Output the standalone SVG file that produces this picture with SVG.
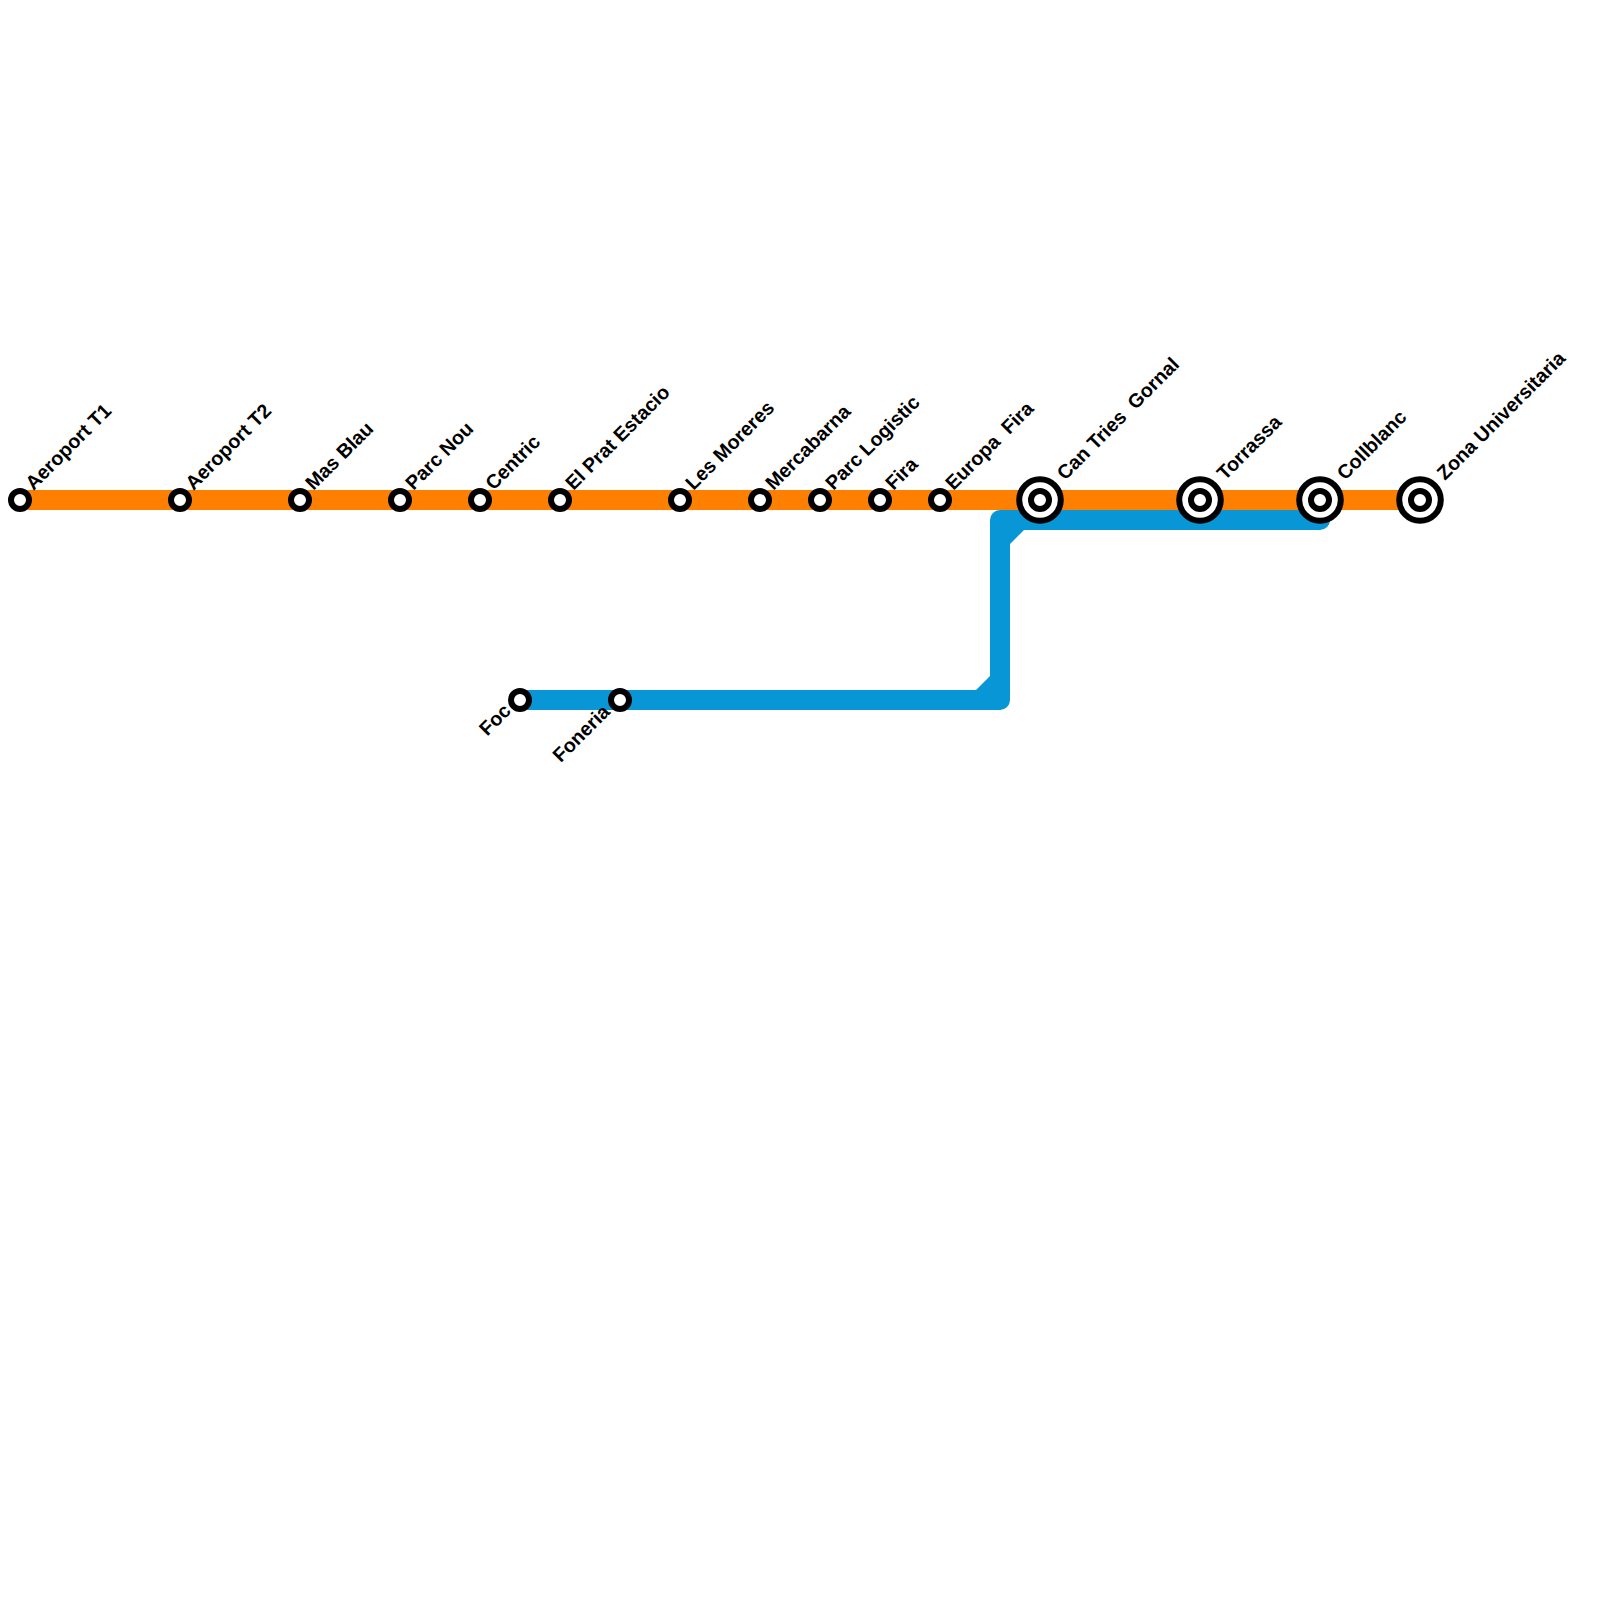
<svg xmlns="http://www.w3.org/2000/svg" width="1600" height="1600" viewBox="0 0 1600 1600">
<style>
text{font-family:"Liberation Sans",Arial,sans-serif;font-size:19.7px;font-weight:bold;fill:#000;white-space:pre}
.ln{fill:none;stroke-width:20;stroke-linejoin:round;stroke-linecap:round}
.s{fill:#fff;stroke:#000;stroke-width:6}
.i{fill:#fff;stroke:#000;stroke-width:6}
.e{text-anchor:end}
</style>
<defs>
<g id="st"><circle class="s" r="9"/></g>
<g id="ic"><circle class="i" r="20.8"/><circle class="s" r="9"/></g>
</defs>
<rect width="1600" height="1600" fill="#fff"/>
<g id="connectors">
<path class="ln" stroke="#ff8000" d="M20 500H1420"/>
<path class="ln" stroke="#0896d7" d="M520 700H1000V520H1320"/>
<path fill="#0896d7" d="M1005 530H1024L1005 549ZM990 676L976 690H995V676Z"/>
</g>
<g id="n1"><use href="#st" x="20" y="500"/><text transform="translate(33.5 491) rotate(-45)">Aeroport T1</text></g>
<g id="n2"><use href="#st" x="180" y="500"/><text transform="translate(193.5 491) rotate(-45)">Aeroport T2</text></g>
<g id="n3"><use href="#st" x="300" y="500"/><text transform="translate(313.5 491) rotate(-45)">Mas Blau</text></g>
<g id="n4"><use href="#st" x="400" y="500"/><text transform="translate(413.5 491) rotate(-45)">Parc Nou</text></g>
<g id="n5"><use href="#st" x="480" y="500"/><text transform="translate(493.5 491) rotate(-45)">Centric</text></g>
<g id="n6"><use href="#st" x="560" y="500"/><text transform="translate(573.5 491) rotate(-45)">El Prat Estacio</text></g>
<g id="n7"><use href="#st" x="680" y="500"/><text transform="translate(693.5 491) rotate(-45)">Les Moreres</text></g>
<g id="n8"><use href="#st" x="760" y="500"/><text transform="translate(773.5 491) rotate(-45)">Mercabarna</text></g>
<g id="n9"><use href="#st" x="820" y="500"/><text transform="translate(833.5 491) rotate(-45)">Parc Logistic</text></g>
<g id="n10"><use href="#st" x="880" y="500"/><text transform="translate(893.5 491) rotate(-45)">Fira</text></g>
<g id="n11"><use href="#st" x="940" y="500"/><text transform="translate(953.5 491) rotate(-45)">Europa  Fira</text></g>
<g id="n12"><use href="#ic" x="1040" y="500"/><text transform="translate(1065 481) rotate(-45)">Can Tries  Gornal</text></g>
<g id="n13"><use href="#ic" x="1200" y="500"/><text transform="translate(1225 481) rotate(-45)">Torrassa</text></g>
<g id="n14"><use href="#ic" x="1320" y="500"/><text transform="translate(1345 481) rotate(-45)">Collblanc</text></g>
<g id="n15"><use href="#ic" x="1420" y="500"/><text transform="translate(1445 481) rotate(-45)">Zona Universitaria</text></g>
<g id="n16"><use href="#st" x="520" y="700"/><text class="e" transform="translate(512 712) rotate(-45)">Foc</text></g>
<g id="n17"><use href="#st" x="620" y="700"/><text class="e" transform="translate(611 713) rotate(-45)">Foneria</text></g>
</svg>
